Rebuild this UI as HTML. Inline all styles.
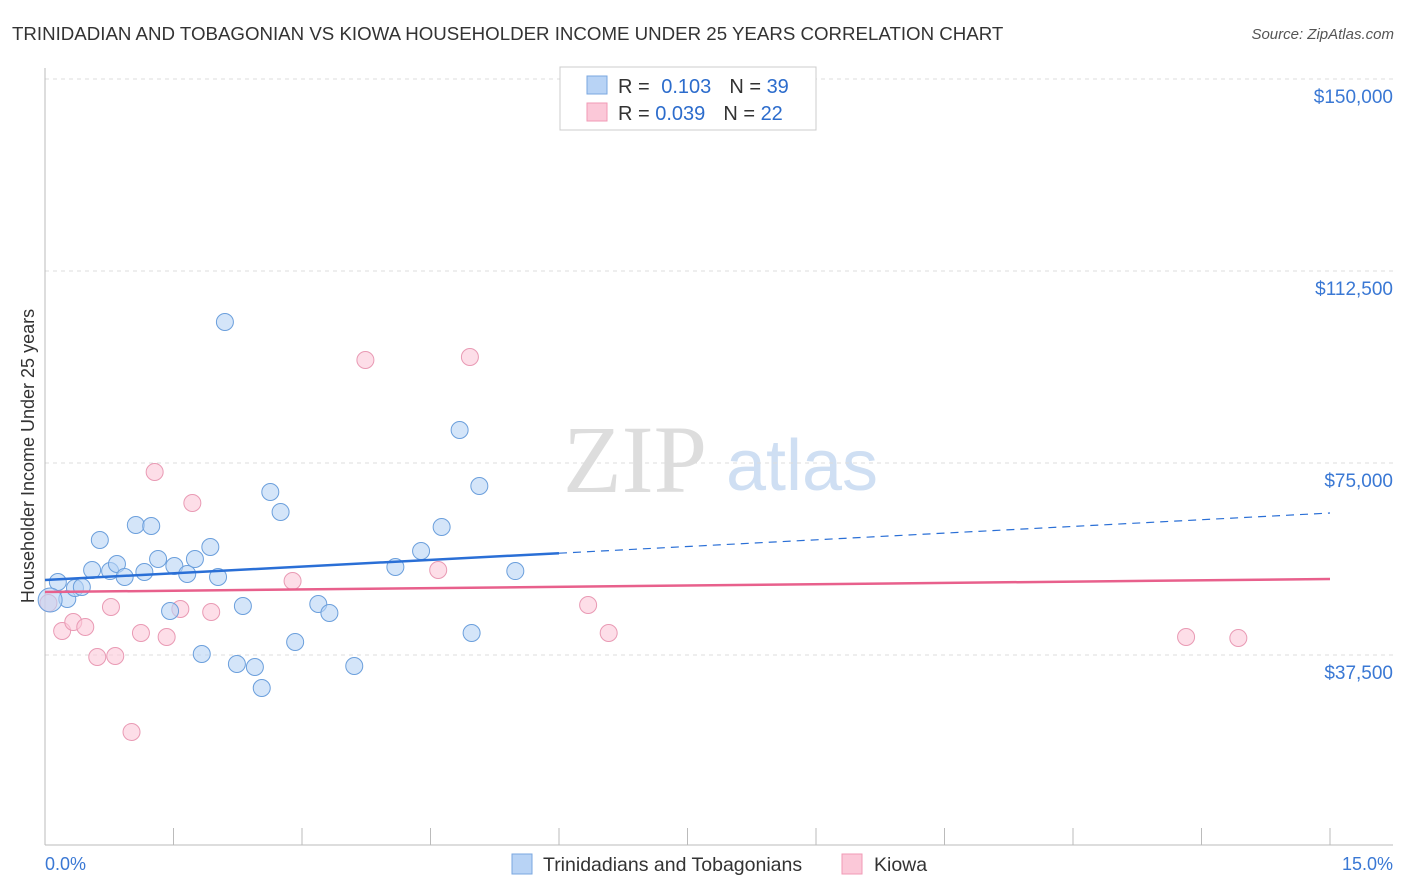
<!DOCTYPE html>
<html><head><meta charset="utf-8"><style>
body{margin:0;background:#fff;font-family:"Liberation Sans",sans-serif;}
svg{display:block}
</style></head><body>
<svg id="chart" width="1406" height="892">
<text x="12" y="40" font-size="18.7" fill="#333">TRINIDADIAN AND TOBAGONIAN VS KIOWA HOUSEHOLDER INCOME UNDER 25 YEARS CORRELATION CHART</text>
<text x="1394" y="39" font-size="15" fill="#555" text-anchor="end" font-style="italic">Source: ZipAtlas.com</text>
<text x="635" y="492" font-size="96" fill="#ddd" text-anchor="middle" font-family="Liberation Serif,serif">ZIP</text>
<text x="802" y="490" font-size="72" fill="#cfdff3" text-anchor="middle">atlas</text>
<text transform="translate(34,456) rotate(-90)" font-size="18" fill="#333" text-anchor="middle">Householder Income Under 25 years</text>
<g id="grid"></g><g id="marks"></g>
<g>
<rect x="560" y="67" width="256" height="63" fill="#fff" stroke="#ccc"/>
<rect x="587" y="76" width="20" height="18" fill="#b8d3f5" stroke="#7aa7e0"/>
<rect x="587" y="103" width="20" height="18" fill="#fbc8d8" stroke="#f09ab6"/>
<text x="618" y="93" font-size="20" fill="#333">R = <tspan fill="#2c6ccc" dx="6">0.103</tspan><tspan dx="18" fill="#333">N = </tspan><tspan fill="#2c6ccc">39</tspan></text>
<text x="618" y="120" font-size="20" fill="#333">R = <tspan fill="#2c6ccc">0.039</tspan><tspan dx="18" fill="#333">N = </tspan><tspan fill="#2c6ccc">22</tspan></text>
</g>
<g>
<rect x="512" y="854" width="20" height="20" fill="#b8d3f5" stroke="#7aa7e0"/>
<text x="543" y="871" font-size="19.5" fill="#333">Trinidadians and Tobagonians</text>
<rect x="842" y="854" width="20" height="20" fill="#fbc8d8" stroke="#f09ab6"/>
<text x="874" y="871" font-size="19.5" fill="#333">Kiowa</text>
</g>
<text x="45" y="870" font-size="18" fill="#3a78d4">0.0%</text>
<text x="1393" y="870" font-size="18" fill="#3a78d4" text-anchor="end">15.0%</text>
</svg>
<script>
const yTicks=[37500,75000,112500,150000];
const yTickLabels=["$37,500","$75,000","$112,500","$150,000"];
const blueX=[0.15,0.26,0.35,0.43,0.55,0.64,0.76,0.84,0.93,1.06,1.16,1.24,1.32,1.46,1.51,1.66,1.75,1.83,1.93,2.02,2.10,2.24,2.31,2.45,2.53,2.63,2.75,2.92,3.19,3.32,3.61,4.09,4.39,4.63,4.84,4.98,5.07,5.49,0.06];
const blueY=[51760,48440,50590,50780,54100,59960,53900,55270,52730,62890,53710,62690,56250,46090,54880,53320,56250,37690,58590,52730,102540,35740,47070,35160,31050,69340,65430,40040,47460,45700,35350,54690,57810,62500,81450,41800,70510,53900,48240];
const pinkX=[0.04,0.20,0.33,0.47,0.61,0.77,0.82,1.01,1.12,1.28,1.42,1.58,1.72,1.94,2.89,3.74,4.59,4.96,6.34,6.58,13.32,13.93];
const pinkY=[47650,42190,43950,42970,37110,46880,37300,22460,41800,73240,41020,46480,67190,45900,51950,95120,54100,95700,47270,41800,41020,40820];
const blueTrend=[52150,65230];
const pinkTrend=[49800,52340];
const blueSolidEnd=6.0;
const NS="http://www.w3.org/2000/svg";
const xs=v=>45+v/15*1285, ys=v=>847-v/37500*192;
function mk(t,a,p){const e=document.createElementNS(NS,t);for(const k in a)e.setAttribute(k,a[k]);p.appendChild(e);return e;}
const g=document.getElementById('grid'),m=document.getElementById('marks');
yTicks.forEach((t,i)=>{
 const l=mk('line',{x1:45,x2:1393,y1:ys(t),y2:ys(t),stroke:'#ddd','stroke-dasharray':'4,4'},g);
 
 
 const tx=mk('text',{x:1393,y:ys(t)+24,'font-size':19,fill:'#3a78d4','text-anchor':'end'},g);
 tx.textContent=yTickLabels[i];
 
 
});
const ax=mk('line',{x1:45,x2:1393,y1:845,y2:845,stroke:'#bbb'},g);


const ay=mk('line',{x1:45,x2:45,y1:68,y2:845,stroke:'#bbb'},g);


for(let i=0;i<=10;i++){const t=mk('line',{x1:xs(i*1.5),x2:xs(i*1.5),y1:828,y2:845,stroke:'#bbb'},g);
 
 }
function dot(x,y,fill,st,r){const c=mk('circle',{cx:xs(x),cy:ys(y),r:r,fill:fill,'fill-opacity':0.6,stroke:st,'stroke-width':1},m);return c;}
pinkX.forEach((x,i)=>{const c=dot(x,pinkY[i],'#fbc8d8','#e99ab4',8.5);
 
 });
blueX.forEach((x,i)=>{const c=dot(x,blueY[i],'#b8d3f5','#6b9fdc',i==38?12:8.5);
 
 });
const bv=x=>blueTrend[0]+(blueTrend[1]-blueTrend[0])*x/15;
const b1=mk('line',{x1:xs(0),y1:ys(bv(0)),x2:xs(blueSolidEnd),y2:ys(bv(blueSolidEnd)),stroke:'#2a6fd6','stroke-width':2.5},m);


const b2=mk('line',{x1:xs(blueSolidEnd),y1:ys(bv(blueSolidEnd)),x2:xs(15),y2:ys(bv(15)),stroke:'#2a6fd6','stroke-width':1.2,'stroke-dasharray':'8,6'},m);


const p1=mk('line',{x1:xs(0),y1:ys(pinkTrend[0]),x2:xs(15),y2:ys(pinkTrend[1]),stroke:'#e8608c','stroke-width':2.5},m);


</script>
</body></html>
